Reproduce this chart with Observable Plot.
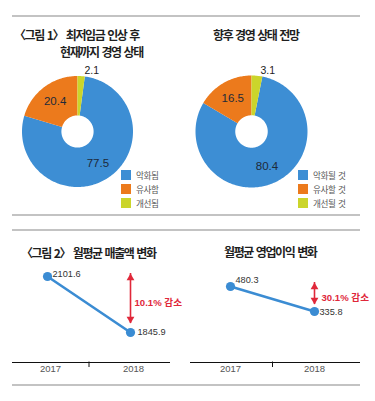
<!DOCTYPE html>
<html><head><meta charset="utf-8">
<script src="https://cdn.jsdelivr.net/npm/d3@7"></script>
<script src="https://cdn.jsdelivr.net/npm/@observablehq/plot@0.6"></script>
<style>
body{margin:0;background:#fff;}
#root{position:relative;width:375px;height:401px;overflow:hidden;background:#fff;font-family:"Noto Sans CJK KR","Noto Sans",sans-serif;}
.box{position:absolute;}
.rule{position:absolute;left:12px;width:348px;height:2px;background:#c3c3c3;}
.title{position:absolute;font-weight:700;font-size:12px;letter-spacing:-1.4px;word-spacing:1.5px;color:#1f1f1f;white-space:pre;line-height:12px;}
.legend{position:absolute;font-size:8.6px;letter-spacing:-0.4px;word-spacing:1px;color:#555;line-height:14px;}
.legend .row{display:flex;align-items:center;height:14px;white-space:pre;}
.legend .sw{width:10px;height:10px;margin-right:5px;flex:none;}
</style></head>
<body><div id="root"></div>
<script>
// ---- data ----
const donutCategories1 = ["악화됨", "유사함", "개선됨"];
const donutValues1 = [77.5, 20.4, 2.1];
const donutCategories2 = ["악화될 것", "유사할 것", "개선될 것"];
const donutValues2 = [80.4, 16.5, 3.1];
const sliceColors = ["#3d8ed4", "#ec7a1c", "#cbd52b"];
const years = [2017, 2018];
const salesValues = [2101.6, 1845.9];
const profitValues = [480.3, 335.8];
const salesChangeLabel = "10.1% 감소";
const profitChangeLabel = "30.1% 감소";
const titleDonut1a = "〈그림 1〉 최저임금 인상 후";
const titleDonut1b = "현재까지 경영 상태";
const titleDonut2 = "향후 경영 상태 전망";
const titleSales = "〈그림 2〉 월평균 매출액 변화";
const titleProfit = "월평균 영업이익 변화";

const lineBlue = "#3b8cd3";
const red = "#e0283a";
const numFont = "'Liberation Sans','Noto Sans CJK KR',sans-serif";
const fmt = d3.format(".1f");

// small vertical tick symbol for the axis divider
const tickSymbol = {draw(ctx, size) { ctx.moveTo(0, -1); ctx.lineTo(0, 4.5); }};

const root = document.getElementById("root");
function place(node, left, top, cls) {
  const d = document.createElement("div");
  d.className = cls || "box";
  d.style.left = left + "px"; d.style.top = top + "px";
  if (node) d.appendChild(node);
  root.appendChild(d);
  return d;
}
function rule(top) { place(null, 12, top, "rule"); }
function title(text, left, top) { const d = place(null, left, top, "title"); d.textContent = text; }
function legend(cats, left, top) {
  const d = place(null, left, top, "legend");
  cats.forEach((c, i) => {
    const row = document.createElement("div"); row.className = "row";
    const sw = document.createElement("span"); sw.className = "sw"; sw.style.background = sliceColors[i];
    const t = document.createElement("span"); t.textContent = c;
    row.appendChild(sw); row.appendChild(t); d.appendChild(row);
  });
}

function donut(cats, vals, R) {
  const S = 140, D = (S / 2) / R, rIn = 0.29;
  const n = vals.length, total = d3.sum(vals);
  const offset = 2 * Math.PI * vals[n - 1] / total;
  const arcs = d3.pie().sort(null).startAngle(offset).endAngle(offset + 2 * Math.PI)(vals);
  const pts = [];
  arcs.forEach((a, i) => {
    const steps = Math.max(2, Math.ceil((a.endAngle - a.startAngle) / 0.02));
    for (let k = 0; k <= steps; k++) { const t = a.startAngle + (a.endAngle - a.startAngle) * k / steps; pts.push({cat: cats[i], x: Math.sin(t), y: Math.cos(t)}); }
    for (let k = steps; k >= 0; k--) { const t = a.startAngle + (a.endAngle - a.startAngle) * k / steps; pts.push({cat: cats[i], x: rIn * Math.sin(t), y: rIn * Math.cos(t)}); }
  });
  const labels = arcs.map((a, i) => {
    const m = (a.startAngle + a.endAngle) / 2, small = vals[i] < 5;
    const rr = small ? 1.1 : (1 + rIn) / 2 + 0.03;
    return {text: fmt(vals[i]), x: rr * Math.sin(m), y: rr * Math.cos(m), small};
  });
  return Plot.plot({
    width: S, height: S, margin: 0,
    style: {fontFamily: numFont, background: "transparent", overflow: "visible"},
    x: {domain: [-D, D], axis: null}, y: {domain: [-D, D], axis: null},
    color: {domain: cats, range: sliceColors},
    marks: [
      Plot.line(pts, {x: "x", y: "y", z: "cat", fill: "cat", stroke: "none", curve: "linear-closed"}),
      Plot.text(labels.filter(d => !d.small), {x: "x", y: "y", text: "text", fontSize: 11.5, fill: "#1d2a3a", letterSpacing: -0.4}),
      Plot.text(labels.filter(d => d.small), {x: "x", y: "y", text: "text", fontSize: 10.5, fill: "#222", textAnchor: "start", dx: 3})
    ]
  });
}

function lineChart(values, changeLabel, o) {
  const data = years.map((y, i) => ({year: y, value: values[i]}));
  const change = [{x: years[1], from: values[0], to: values[1], mid: (values[0] + values[1]) / 2, label: changeLabel}];
  const yMin = o.yDomain[0];
  return Plot.plot({
    width: o.width, height: 125, marginTop: 0, marginBottom: 18, marginLeft: o.marginLeft, marginRight: o.marginRight,
    style: {fontFamily: numFont, background: "transparent", overflow: "visible"},
    x: {type: "linear", domain: [years[0] - 0.5, years[1] + 0.5], range: o.xRange, axis: null},
    y: {domain: o.yDomain, axis: null},
    marks: [
      Plot.ruleY([yMin], {stroke: "#111", strokeWidth: 1}),
      Plot.dot([d3.mean(years)], {x: d => d, y: yMin, symbol: tickSymbol, r: 3, fill: "none", stroke: "#111", strokeWidth: 1}),
      Plot.text(years, {x: d => d, frameAnchor: "bottom", dy: 9, dx: o.yearDx, text: d => String(d), fill: "#555", fontSize: 9.5}),
      Plot.line(data, {x: "year", y: "value", stroke: lineBlue, strokeWidth: 2.6}),
      Plot.dot(data, {x: "year", y: "value", r: 4.6, fill: lineBlue}),
      Plot.text(data.slice(0, 1), {x: "year", y: "value", text: d => fmt(d.value), textAnchor: "start", dx: o.l0[0], dy: o.l0[1], fontSize: 9.2, fill: "#333", letterSpacing: -0.5}),
      Plot.text(data.slice(1), {x: "year", y: "value", text: d => fmt(d.value), textAnchor: "start", dx: o.l1[0], dy: o.l1[1], fontSize: 9.2, fill: "#333", letterSpacing: -0.5}),
      Plot.ruleX(change, {x: "x", y1: "from", y2: "to", insetTop: o.arrowTop, insetBottom: o.arrowBottom, stroke: red, strokeWidth: 1.6}),
      Plot.dot(change, {x: "x", y: "from", symbol: "triangle", r: 2.9, fill: red, stroke: "none", dy: o.arrowTop + 4.4}),
      Plot.dot(change, {x: "x", y: "to", symbol: "triangle", rotate: 180, r: 2.9, fill: red, stroke: "none", dy: -o.arrowBottom - 4.4}),
      Plot.text(change, {x: "x", y: "mid", text: "label", textAnchor: "start", dx: o.labelDx, dy: o.labelDy, fill: red, fontWeight: 700, fontSize: 9.6, letterSpacing: -0.3})
    ]
  });
}

// ---- layout ----
rule(15); rule(214); rule(229); rule(384);
title(titleDonut1a, 14, 29);
title(titleDonut1b, 60, 46);
title(titleDonut2, 213, 29);
title(titleSales, 21, 247);
title(titleProfit, 224, 246);

place(donut(donutCategories1, donutValues1, 55.5), 6.5, 60.5);
place(donut(donutCategories2, donutValues2, 56), 181, 61);
legend(donutCategories1, 121, 168);
legend(donutCategories2, 298, 168);

place(lineChart(salesValues, salesChangeLabel, {
  width: 185, marginLeft: 12, marginRight: 15, xRange: [5.5, 171.5], yDomain: [1709, 2197.5],
  yearDx: 3, l0: [5, -2], l1: [7, 0], arrowTop: -3, arrowBottom: 9, labelDx: 4, labelDy: -2
}), 0, 255);
place(lineChart(profitValues, profitChangeLabel, {
  width: 190, marginLeft: 5, marginRight: 15, xRange: [3, 171], yDomain: [41, 659.5],
  yearDx: 0, l0: [5, -6], l1: [5, 1], arrowTop: -4, arrowBottom: 7, labelDx: 7, labelDy: -1
}), 185, 255);
</script></body></html>
